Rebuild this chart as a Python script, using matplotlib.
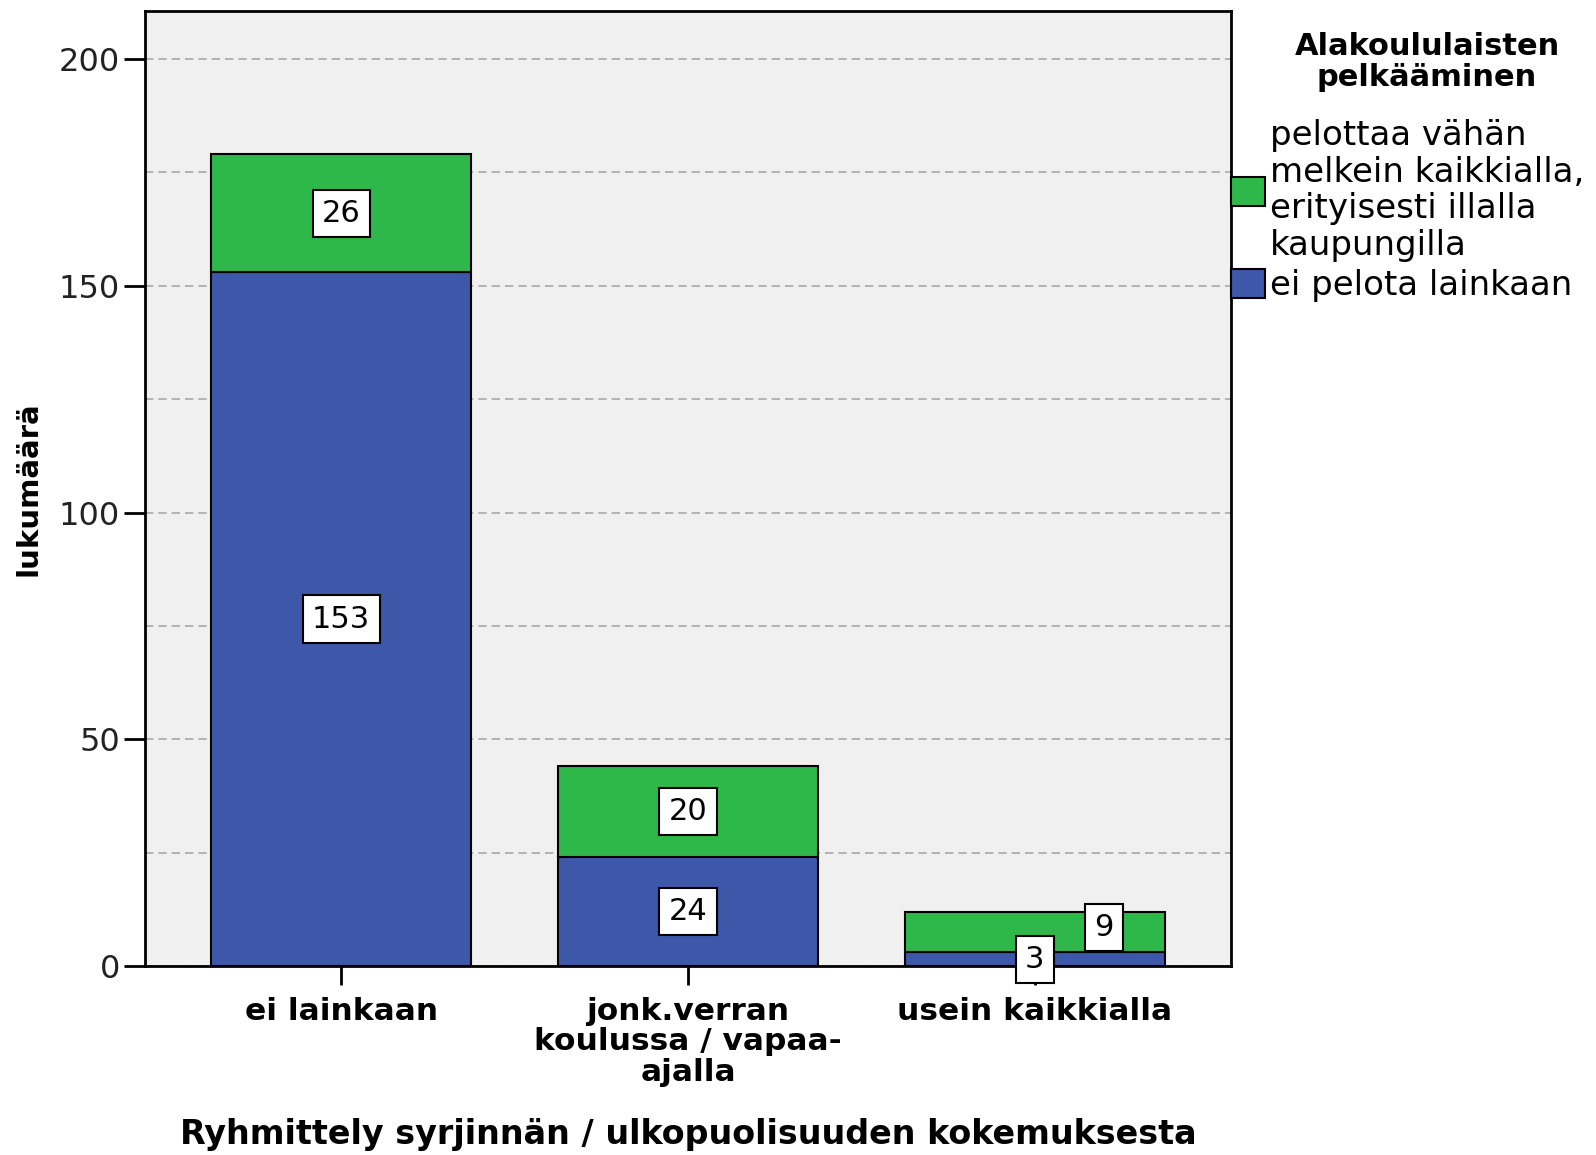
import numpy as np
import matplotlib
matplotlib.use('Agg')
import matplotlib.pyplot as plt
from matplotlib.patches import Patch

# data
categories = ['ei lainkaan', 'jonk.verran\nkoulussa / vapaa-\najalla', 'usein kaikkialla']
ei_pelota = [153, 24, 3]          # blue, bottom
pelottaa_vahan = [26, 20, 9]      # green, top
series_names = ['pelottaa vähän\nmelkein kaikkialla,\nerityisesti illalla\nkaupungilla',
                'ei pelota lainkaan']
legend_title = 'Alakoululaisten\npelkääminen'
yticks = [0, 50, 100, 150, 200]

plt.rcParams['font.family'] = ['DejaVu Sans']
blue = '#3D57A9'
green = '#2EB84A'

fig = plt.figure(figsize=(15.96, 11.55), dpi=100)
ax = fig.add_axes([145/1596, 1-966/1155, (1231-145)/1596, (966-11)/1155])
ax.set_facecolor('#F0F0F0')

x = np.arange(len(categories))
w = 0.75
ax.bar(x, ei_pelota, w, color=blue, edgecolor='black', linewidth=1.5, zorder=3)
ax.bar(x, pelottaa_vahan, w, bottom=ei_pelota, color=green, edgecolor='black', linewidth=1.5, zorder=3)

box = dict(boxstyle='square,pad=0.3', facecolor='white', edgecolor='black', linewidth=1.5)
for i in range(len(categories)):
    b = ei_pelota[i]
    g = pelottaa_vahan[i]
    ax.text(x[i], b/2, str(b), ha='center', va='center', fontsize=22, bbox=box, zorder=5)
    if g < 15:
        # small segment: label shifted right like in the original
        ax.text(x[i]+0.2, b+g/2+1, str(g), ha='center', va='center', fontsize=22, bbox=box, zorder=5)
    else:
        ax.text(x[i], b+g/2, str(g), ha='center', va='center', fontsize=22, bbox=box, zorder=5)

ax.set_xlim(-0.566, 2.566)
ax.set_ylim(0, 210.6)
ax.set_yticks(yticks)
ax.set_yticks([25, 75, 125, 175], minor=True)
ax.tick_params(axis='y', which='minor', length=0)
ax.grid(axis='y', which='both', linestyle=(0, (5, 3)), color='#A8A8A8', linewidth=1.2, zorder=1)
ax.set_axisbelow(True)

ax.set_xticks(x)
ax.set_xticklabels(categories, fontweight='bold', fontsize=22.5, linespacing=1.08)
ax.tick_params(axis='x', length=14, width=2, pad=8)
ax.tick_params(axis='y', which='major', length=15, width=2, labelsize=23, pad=3, labelcolor='#222222')
for s in ax.spines.values():
    s.set_linewidth(2)

ax.set_xlabel('Ryhmittely syrjinnän / ulkopuolisuuden kokemuksesta', fontweight='bold', fontsize=24, labelpad=22)
ax.set_ylabel('lukumäärä', fontweight='bold', fontsize=21, labelpad=12)

handles = [Patch(facecolor=green, edgecolor='black', linewidth=1.5),
           Patch(facecolor=blue, edgecolor='black', linewidth=1.5)]
leg = fig.legend(handles, series_names, loc='upper left', bbox_to_anchor=(1231/1596, 1-119/1155),
                 frameon=False, fontsize=24.5, borderpad=0, borderaxespad=0,
                 handlelength=1.0, handleheight=0.95, handletextpad=0.15, labelspacing=0.2)
for t in leg.get_texts():
    t.set_linespacing(1.14)
fig.text(1427/1596, 1-62/1155, legend_title, ha='center', va='center', fontweight='bold',
         fontsize=22, linespacing=1.1)

fig.savefig('out.png', dpi=100)
